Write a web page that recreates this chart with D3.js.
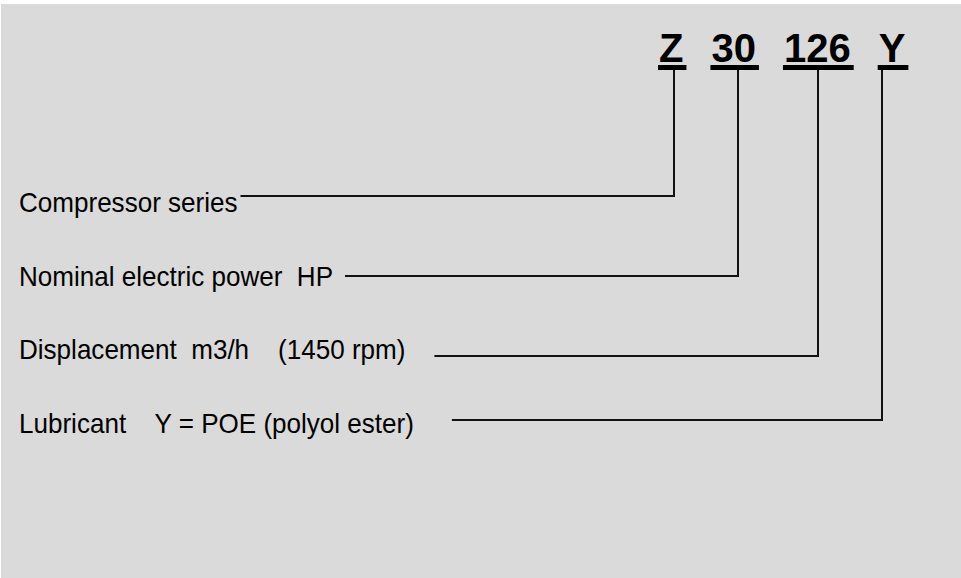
<!DOCTYPE html>
<html lang="en">
<head>
    <meta charset="UTF-8">
    <title>Compressor model code</title>
    <script src="https://d3js.org/d3.v7.min.js"></script>
    <style>
        body { margin: 0; background: #ffffff; }
        svg { display: block; }
        text { font-family: "Liberation Sans", Arial, sans-serif; white-space: pre; }
    </style>
</head>
<body>
<script>
    // model code parts, one per legend row
    var codeParts = ["Z", "30", "126", "Y"];
    var rowLabels = [
        "Compressor series",
        "Nominal electric power  HP",
        "Displacement  m3/h    (1450 rpm)",
        "Lubricant    Y = POE (polyol ester)"
    ];

    var w = 961, h = 578;

    var svg = d3.select("body")
        .append("svg")
        .attr("width", w)
        .attr("height", h);

    svg.append("rect")
        .attr("x", 1)
        .attr("y", 4)
        .attr("width", w - 1)
        .attr("height", h - 4)
        .attr("fill", "#dadada");

    // rows: text baseline and leader line height
    var yText = d3.scaleLinear().domain([0, 3]).range([212, 433]);
    var yLine = d3.scaleLinear().domain([0, 1, 2, 3]).range([196, 276, 356, 420]);

    // code letters, laid out left to right
    var codeY = 62, gap = 28;
    var code = svg.selectAll("text.code")
        .data(codeParts)
        .enter()
        .append("text")
        .attr("class", "code")
        .attr("y", codeY)
        .attr("font-size", "40px")
        .attr("font-weight", "bold")
        .attr("fill", "#000")
        .text(function(d) { return d; });

    var cx = 659;
    var parts = [];
    code.each(function(d, i) {
        var len = this.getComputedTextLength();
        d3.select(this).attr("x", cx);
        parts.push({ x0: cx - 1, x1: cx + len + 3 });
        cx += len + gap;
    });

    // thick underlines
    svg.selectAll("rect.under")
        .data(parts)
        .enter()
        .append("rect")
        .attr("x", function(d) { return d.x0; })
        .attr("y", 65)
        .attr("width", function(d) { return d.x1 - d.x0; })
        .attr("height", 5)
        .attr("fill", "#000");

    // row labels (slightly condensed, like the original)
    var sx = 0.965;
    var labels = svg.selectAll("text.label")
        .data(rowLabels)
        .enter()
        .append("text")
        .attr("class", "label")
        .attr("transform", function(d, i) {
            return "translate(19," + yText(i) + ") scale(" + sx + ",1)";
        })
        .attr("font-size", "27px")
        .attr("fill", "#000")
        .text(function(d) { return d; });

    var lineGap = [3, 12, 29, 38];
    var starts = [];
    labels.each(function(d, i) {
        starts.push(19 + this.getComputedTextLength() * sx + lineGap[i]);
    });

    // leader lines from each label up to its code part
    var stemNudge = [2, 3.5, 0, -11];
    var leaders = parts.map(function(p, i) {
        var x = Math.round((p.x0 + p.x1) / 2 + stemNudge[i]);
        return [[starts[i], yLine(i)], [x, yLine(i)], [x, 70]];
    });

    svg.selectAll("path.leader")
        .data(leaders)
        .enter()
        .append("path")
        .attr("class", "leader")
        .attr("d", d3.line())
        .attr("fill", "none")
        .attr("stroke", "#111")
        .attr("stroke-width", 2);
</script>
</body>
</html>
